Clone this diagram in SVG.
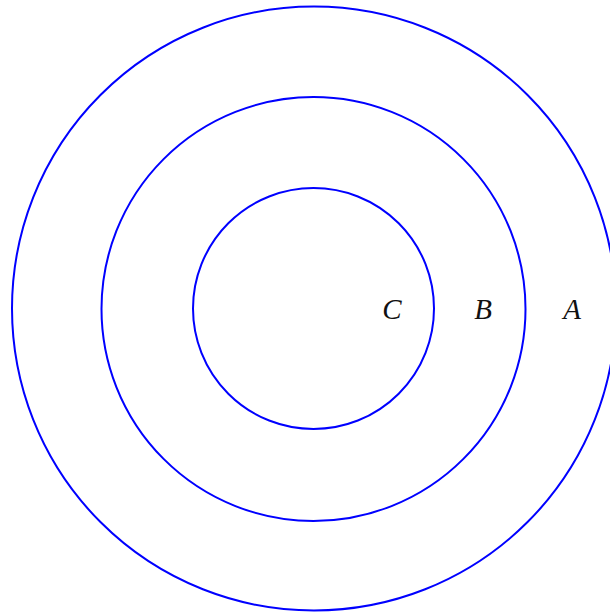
<svg xmlns="http://www.w3.org/2000/svg" width="610" height="612" viewBox="0 0 610 612">
<style>
.ring{fill:none;stroke:#0000ff;stroke-width:2}
.lbl{font-family:"Liberation Serif","DejaVu Serif",serif;font-style:italic;font-size:29px;fill:#111;text-anchor:middle}
</style>
<rect width="610" height="612" fill="#fff"/>
<g id="A"><circle class="ring" cx="314" cy="308.5" r="302"/><text class="lbl" x="572" y="319">A</text></g>
<g id="B"><circle class="ring" cx="313.5" cy="309" r="212"/><text class="lbl" x="483" y="319">B</text></g>
<g id="C"><circle class="ring" cx="313.5" cy="308.5" r="120.5"/><text class="lbl" x="392" y="319">C</text></g>
<g id="connectors"/>
</svg>
